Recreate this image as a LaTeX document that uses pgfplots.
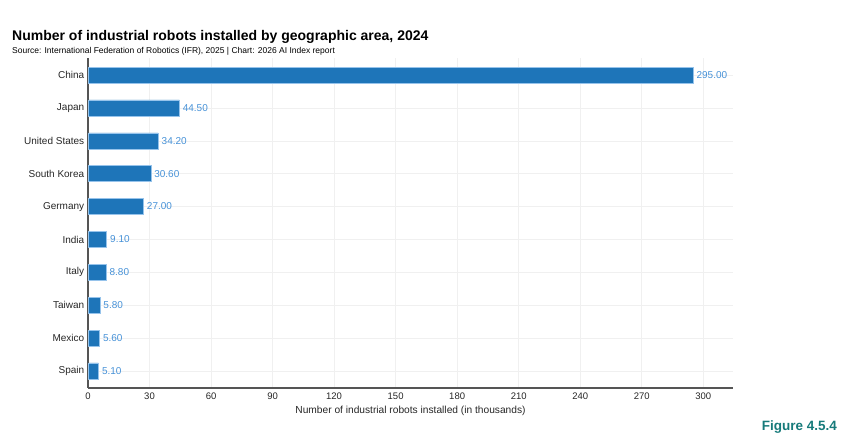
\documentclass[border=0pt]{standalone}
\usepackage{fontspec}
\setmainfont{Liberation Sans}
\usepackage{pgfplots}
\usepackage{pgfplotstable}
\pgfplotsset{compat=1.18}
\definecolor{barblue}{RGB}{30,117,185}
\definecolor{baredge}{RGB}{150,195,235}
\definecolor{lblblue}{RGB}{70,145,215}
\definecolor{gridc}{RGB}{240,240,240}
\definecolor{axc}{RGB}{85,85,85}
\definecolor{figteal}{RGB}{22,122,122}
\pgfplotstableread{
y value
0 5.10
1 5.60
2 5.80
3 8.80
4 9.10
5 27.00
6 30.60
7 34.20
8 44.50
9 295.00
}\robots
\begin{document}
\begin{tikzpicture}
\path[use as bounding box] (0pt,0pt) rectangle (850pt,446pt);
\coordinate (axorig) at (88pt,58pt);
\node[anchor=base west, inner sep=0pt, font=\fontsize{14}{16}\selectfont\bfseries] at (12pt,405pt) {Number of industrial robots installed by geographic area, 2024};
\node[anchor=base west, inner sep=0pt, font=\fontsize{8.5}{10}\selectfont] at (12pt,392.5pt) {Source: International Federation of Robotics (IFR), 2025 | Chart: 2026 AI Index report};
\node[anchor=base east, inner sep=0pt, text=figteal, font=\fontsize{13.5}{15}\selectfont\bfseries] at (837pt,15pt) {Figure 4.5.4};
\begin{axis}[
  at={(axorig)}, anchor=south west,
  scale only axis, width=645pt, height=330pt,
  xbar, bar width=16pt,
  xmin=0, xmax=314.5, ymin=-0.52, ymax=9.52,
  xtick={0,30,...,300},
  ytick=data,
  yticklabels={Spain,Mexico,Taiwan,Italy,India,Germany,South Korea,United States,Japan,China},
  xmajorgrids, ymajorgrids,
  grid style={gridc, line width=0.6pt},
  axis x line*=bottom, axis y line*=left,
  axis line style={axc, line width=1.3pt, -},
  tick style={draw=none},
  /pgf/number format/assume math mode=true,
  ticklabel style={font=\fontsize{9.5}{11}\selectfont, text=black!85},
  yticklabel style={font=\fontsize{10}{11}\selectfont, xshift=4pt},
  xticklabel style={yshift=-1pt},
  xlabel={Number of industrial robots installed (in thousands)},
  xlabel style={font=\fontsize{10.2}{12}\selectfont, text=black!85, yshift=0pt},
  nodes near coords,
  nodes near coords style={font=\fontsize{10}{11}\selectfont, text=lblblue, anchor=west, xshift=0pt,
    /pgf/number format/.cd, fixed, fixed zerofill, precision=2, assume math mode=true},
]
\addplot[fill=barblue, draw=baredge, line width=0.5pt] table[x=value, y=y] {\robots};
\end{axis}
\end{tikzpicture}
\end{document}
